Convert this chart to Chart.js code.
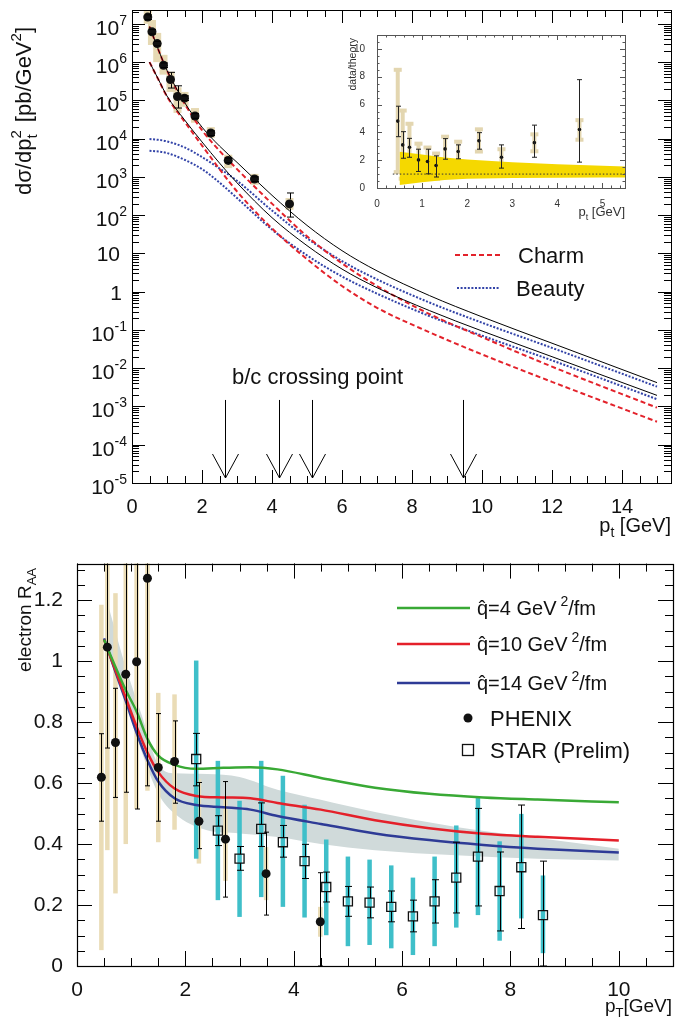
<!DOCTYPE html>
<html>
<head>
<meta charset="utf-8">
<script src="https://cdn.jsdelivr.net/npm/chart.js@4.4.1/dist/chart.umd.min.js"></script>
<style>
body { margin: 0; background: #fff; width: 688px; height: 1023px; position: relative; overflow: hidden; }
canvas { position: absolute; }
#top { left: 0; top: 0; }
#inset { left: 330px; top: 20px; }
#bottom { left: 0; top: 545px; }
</style>
</head>
<body>
<canvas id="top" width="688" height="545"></canvas>
<canvas id="inset" width="310" height="205"></canvas>
<canvas id="bottom" width="688" height="478"></canvas>
<script>
// ---- top panel: electron cross section ----
var ptData   = [0.45, 0.57, 0.72, 0.9, 1.1, 1.3, 1.5, 1.8, 2.25, 2.75, 3.5, 4.5];
var xsData   = [1.5e7, 6.2e6, 3.05e6, 8.3e5, 3.5e5, 1.26e5, 1.14e5, 3.9e4, 1.4e4, 2.7e3, 880, 197];
var xsStatLo = [1.3e7, 5.4e6, 2.65e6, 7.2e5, 2.1e5, 6.3e4, 9.9e4, 3.4e4, 1.2e4, 2.35e3, 760, 89];
var xsStatHi = [1.72e7, 7.1e6, 3.5e6, 9.5e5, 5.4e5, 2.4e5, 1.31e5, 4.5e4, 1.6e4, 3.1e3, 1.0e3, 380];
var xsSysLo  = [1.0e7, 2.8e6, 1.0e6, 4.7e5, 1.66e5, 4.7e4, 6.8e4, 2.6e4, 1.05e4, 1.7e3, 620, 138];
var xsSysHi  = [3.0e7, 1.26e7, 5.8e6, 1.55e6, 5.6e5, 2.2e5, 1.66e5, 6.3e4, 2.0e4, 3.8e3, 1.2e3, 280];

var ptTheory = [0.5, 0.75, 1, 1.5, 2, 2.5, 3, 4, 5, 6, 7, 8.5, 10, 12, 15];
var totalHi  = [8.5e6, 2.15e6, 6.1e5, 8.9e4, 2.0e4, 6.4e3, 2.4e3, 330, 54, 11.8, 3.5, 0.79, 0.22, 0.045, 0.0042];
var totalLo  = [1.0e6, 3.6e5, 1.3e5, 3.1e4, 8.2e3, 2.3e3, 700, 86, 16, 3.9, 1.27, 0.32, 0.094, 0.020, 0.00195];
var charmHi  = [8.5e6, 2.14e6, 6.0e5, 8.3e4, 1.66e4, 4.8e3, 1.6e3, 200, 28, 5.5, 1.41, 0.26, 0.065, 0.011, 0.00093];
var charmLo  = [1.0e6, 3.55e5, 1.26e5, 2.8e4, 6.6e3, 1.6e3, 417, 45, 7.1, 1.41, 0.38, 0.087, 0.023, 0.0044, 0.0004];
var beautyHi = [9800, 9300, 8500, 5900, 3300, 1660, 794, 132, 25, 6.3, 2.1, 0.52, 0.155, 0.034, 0.0033];
var beautyLo = [4800, 4600, 4200, 2800, 1600, 710, 280, 42, 8.9, 2.5, 0.89, 0.23, 0.071, 0.016, 0.00155];
var crossPts = [2.65, 4.2, 5.15, 9.45];
var topXTicks = [0, 2, 4, 6, 8, 10, 12, 14];
var topDecades = [-5, -4, -3, -2, -1, 0, 1, 2, 3, 4, 5, 6, 7];

// ---- inset: data/theory ----
var ratioPt     = [0.46, 0.57, 0.72, 0.92, 1.12, 1.31, 1.51, 1.8, 2.26, 2.76, 3.49, 4.49];
var ratio       = [4.81, 3.1, 2.93, 2.02, 1.9, 1.62, 2.81, 2.62, 3.4, 2.21, 3.26, 4.21];
var ratioStatLo = [3.69, 2.14, 2.21, 1.19, 1.02, 0.79, 2.07, 2.1, 2.79, 1.43, 2.21, 1.86];
var ratioStatHi = [5.88, 4.05, 3.57, 2.79, 2.79, 2.31, 3.55, 3.1, 3.98, 3.1, 4.52, 7.79];
var ratioSysLo  = [1.07, 0.6, 1.12, 0.79, 0.95, 0.6, 1.83, 1.79, 2.55, 1.62, 2.57, 3.4];
var ratioSysHi  = [8.57, 5.64, 4.69, 3.26, 2.98, 2.55, 3.76, 3.4, 4.29, 2.86, 3.93, 4.95];
var bandPt  = [0.5, 1, 1.5, 2, 3, 4, 5, 5.5];
var bandTop = [2.6, 2.4, 2.2, 2.05, 1.85, 1.7, 1.6, 1.55];
var bandBot = [0.22, 0.42, 0.58, 0.66, 0.72, 0.74, 0.75, 0.75];
var unityPt = [0.35, 5.5];
var unity   = [1, 1];
var insetXTicks = [0, 1, 2, 3, 4, 5];
var insetYTicks = [0, 2, 4, 6, 8, 10];

// ---- bottom panel: electron R_AA ----
var phenixPt     = [0.45, 0.56, 0.71, 0.9, 1.1, 1.3, 1.5, 1.8, 2.25, 2.74, 3.49, 4.49];
var phenixRaa    = [0.619, 1.046, 0.733, 0.957, 0.998, 1.272, 0.651, 0.671, 0.475, 0.416, 0.303, 0.145];
var phenixStatLo = [0.475, 0.715, 0.553, 0.57, 0.515, 0.591, 0.475, 0.534, 0.385, 0.226, 0.167, 0];
var phenixStatHi = [0.762, 1.5, 0.911, 1.5, 1.5, 1.5, 0.828, 0.804, 0.602, 0.605, 0.439, 0.306];
var phenixSysLo  = [0.052, 0.38, 0.238, 0.40, 0.515, 0.575, 0.406, 0.447, 0.336, 0.279, 0.216, 0.096];
var phenixSysHi  = [1.185, 1.5, 1.223, 1.5, 1.5, 1.5, 0.896, 0.891, 0.613, 0.545, 0.39, 0.194];

var starPt     = [2.2, 2.6, 3.0, 3.4, 3.8, 4.2, 4.6, 5.0, 5.4, 5.8, 6.2, 6.6, 7.0, 7.4, 7.8, 8.2, 8.6];
var starRaa    = [0.679, 0.444, 0.352, 0.45, 0.406, 0.344, 0.259, 0.212, 0.208, 0.194, 0.163, 0.212, 0.29, 0.359, 0.246, 0.324, 0.167];
var starStatLo = [0.591, 0.395, 0.314, 0.392, 0.357, 0.287, 0.21, 0.163, 0.158, 0.145, 0.112, 0.141, 0.174, 0.197, 0.115, 0.123, 0.0];
var starStatHi = [0.763, 0.493, 0.392, 0.535, 0.461, 0.399, 0.308, 0.261, 0.259, 0.246, 0.216, 0.283, 0.406, 0.517, 0.374, 0.528, 0.344];
var starSysLo  = [0.352, 0.216, 0.161, 0.226, 0.194, 0.159, 0.101, 0.065, 0.069, 0.058, 0.036, 0.065, 0.126, 0.167, 0.083, 0.156, 0.042];
var starSysHi  = [1.002, 0.673, 0.542, 0.673, 0.624, 0.529, 0.415, 0.359, 0.349, 0.33, 0.29, 0.359, 0.461, 0.551, 0.409, 0.499, 0.297];

var ptModel = [0.5, 0.7, 0.9, 1.1, 1.3, 1.5, 1.8, 2.2, 2.7, 3.2, 3.7, 4.5, 5.5, 6.5, 7.5, 8.5, 10];
var raaQ4   = [1.07, 0.985, 0.905, 0.835, 0.745, 0.69, 0.66, 0.647, 0.65, 0.652, 0.645, 0.617, 0.585, 0.565, 0.553, 0.546, 0.537];
var raaQ10  = [1.07, 0.975, 0.88, 0.785, 0.70, 0.636, 0.582, 0.558, 0.553, 0.55, 0.535, 0.513, 0.478, 0.452, 0.434, 0.424, 0.412];
var raaQ14  = [1.075, 0.97, 0.87, 0.765, 0.675, 0.605, 0.55, 0.528, 0.521, 0.513, 0.492, 0.466, 0.435, 0.413, 0.397, 0.385, 0.372];
var uncPt   = [0.55, 0.9, 1.2, 1.5, 1.8, 2.4, 3.0, 3.7, 4.5, 5.5, 7, 8.5, 10];
var uncHi   = [1.2, 0.98, 0.82, 0.66, 0.632, 0.63, 0.62, 0.578, 0.545, 0.505, 0.456, 0.42, 0.385];
var uncLo   = [1.03, 0.87, 0.70, 0.565, 0.50, 0.445, 0.435, 0.423, 0.40, 0.38, 0.363, 0.352, 0.346];
var botXTicks = [0, 2, 4, 6, 8, 10];
var botYTicks = [0, 0.2, 0.4, 0.6, 0.8, 1, 1.2];

var FONT = '"Liberation Sans", Arial, sans-serif';
Chart.defaults.font.family = FONT;
Chart.defaults.color = '#111';
Chart.defaults.animation = false;
Chart.defaults.plugins.legend.display = false;
Chart.defaults.plugins.tooltip.enabled = false;

function pts(xs, ys) {
    return xs.map(function(x, i) { return {x: x, y: ys[i]}; });
}

function range(a, b, step) {
    var out = [];
    for (var v = a; v <= b + 1e-9; v += step) out.push(+v.toFixed(4));
    return out;
}

function clipArea(ctx, a) {
    ctx.beginPath();
    ctx.rect(a.left, a.top, a.right - a.left, a.bottom - a.top);
    ctx.clip();
}

// parts: [text, size, dy, noAdvance]
function drawText(ctx, parts, x, y, align, angle) {
    ctx.save();
    ctx.translate(x, y);
    if (angle) ctx.rotate(angle);
    var total = 0, widths = [];
    parts.forEach(function(p) {
        ctx.font = p[1] + 'px ' + FONT;
        var w = ctx.measureText(p[0]).width;
        widths.push(w);
        if (!p[3]) total += w;
    });
    var cx = align === 'right' ? -total : (align === 'center' ? -total / 2 : 0);
    ctx.textAlign = 'left';
    ctx.textBaseline = 'alphabetic';
    parts.forEach(function(p, i) {
        ctx.font = p[1] + 'px ' + FONT;
        ctx.fillText(p[0], cx, p[2] || 0);
        if (!p[3]) cx += widths[i];
    });
    ctx.restore();
}

function ticksX(ctx, a, s, vals, len) {
    ctx.beginPath();
    vals.forEach(function(v) {
        var x = Math.round(s.getPixelForValue(v)) + 0.5;
        if (x < a.left || x > a.right) return;
        ctx.moveTo(x, a.bottom); ctx.lineTo(x, a.bottom - len);
        ctx.moveTo(x, a.top); ctx.lineTo(x, a.top + len);
    });
    ctx.stroke();
}

function ticksY(ctx, a, s, vals, len) {
    ctx.beginPath();
    vals.forEach(function(v) {
        var y = Math.round(s.getPixelForValue(v)) + 0.5;
        if (y < a.top || y > a.bottom) return;
        ctx.moveTo(a.left, y); ctx.lineTo(a.left + len, y);
        ctx.moveTo(a.right, y); ctx.lineTo(a.right - len, y);
    });
    ctx.stroke();
}

function frame(ctx, a) {
    ctx.strokeRect(Math.round(a.left) + 0.5, Math.round(a.top) + 0.5,
                   Math.round(a.right - a.left), Math.round(a.bottom - a.top));
}

function sysBoxes(ctx, xs, ys, xv, lo, hi, w, color) {
    ctx.fillStyle = color;
    xv.forEach(function(x, i) {
        var px = xs.getPixelForValue(x);
        var y1 = ys.getPixelForValue(hi[i]), y2 = ys.getPixelForValue(lo[i]);
        ctx.fillRect(px - w / 2, y1, w, y2 - y1);
    });
}

function errBars(ctx, xs, ys, xv, yv, lo, hi, cap, gap) {
    ctx.beginPath();
    xv.forEach(function(x, i) {
        var px = Math.round(xs.getPixelForValue(x)) + 0.5;
        var py = ys.getPixelForValue(yv[i]);
        var pl = ys.getPixelForValue(lo[i]), ph = ys.getPixelForValue(hi[i]);
        if (ph < py - gap) { ctx.moveTo(px, ph); ctx.lineTo(px, py - gap); }
        if (pl > py + gap) { ctx.moveTo(px, py + gap); ctx.lineTo(px, pl); }
        ctx.moveTo(px - cap, ph); ctx.lineTo(px + cap, ph);
        ctx.moveTo(px - cap, pl); ctx.lineTo(px + cap, pl);
    });
    ctx.stroke();
}

function curve(xs, ys, color, width, dash) {
    return {
        data: pts(xs, ys), showLine: true, borderColor: color, borderWidth: width,
        borderDash: dash || [], pointRadius: 0, cubicInterpolationMode: 'monotone', order: 5
    };
}

// ---------------- top chart ----------------
var topDecor = {
    id: 'topDecor',
    beforeDatasetsDraw: function(chart) {
        var ctx = chart.ctx, a = chart.chartArea;
        ctx.save();
        clipArea(ctx, a);
        sysBoxes(ctx, chart.scales.x, chart.scales.y, ptData, xsSysLo, xsSysHi, 8, '#e6d9b3');
        ctx.restore();
    },
    afterDatasetsDraw: function(chart) {
        var ctx = chart.ctx, a = chart.chartArea, xs = chart.scales.x, ys = chart.scales.y;
        ctx.save();
        ctx.strokeStyle = '#000';
        ctx.lineWidth = 1;
        errBars(ctx, xs, ys, ptData, xsData, xsStatLo, xsStatHi, 3.5, 4.5);
        frame(ctx, a);
        ticksX(ctx, a, xs, topXTicks, 13);
        ticksX(ctx, a, xs, range(0, 15, 0.5), 7);
        var major = [], minor = [];
        topDecades.forEach(function(n) {
            major.push(Math.pow(10, n));
            for (var k = 2; k < 10; k++) minor.push(k * Math.pow(10, n));
        });
        ticksY(ctx, a, ys, major, 13);
        ticksY(ctx, a, ys, minor, 7);

        // log tick labels
        ctx.fillStyle = '#111';
        topDecades.forEach(function(n) {
            var y = ys.getPixelForValue(Math.pow(10, n));
            if (n === 0) drawText(ctx, [['1', 21]], 122, y + 8, 'right');
            else if (n === 1) drawText(ctx, [['10', 21]], 120, y + 8, 'right');
            else drawText(ctx, [['10', 21, 11], [String(n), 14, 1]], 127, y, 'right');
        });

        // axis titles
        drawText(ctx, [['d\u03c3/dp', 22], ['2', 15, -10, true], ['t', 15, 6], ['  [pb/GeV', 22], ['2', 15, -10], [']', 22]],
                 31, 27, 'right', -Math.PI / 2);
        drawText(ctx, [['p', 20], ['t', 14, 5], [' [GeV]', 20]], 671, 532, 'right');

        // legend
        ctx.lineWidth = 2;
        ctx.strokeStyle = '#e3222b';
        ctx.setLineDash([5, 3]);
        ctx.beginPath(); ctx.moveTo(455, 255); ctx.lineTo(500, 255); ctx.stroke();
        ctx.strokeStyle = '#3344a8';
        ctx.setLineDash([2, 1.6]);
        ctx.beginPath(); ctx.moveTo(457, 288); ctx.lineTo(500, 288); ctx.stroke();
        ctx.setLineDash([]);
        drawText(ctx, [['Charm', 22]], 518, 263, 'left');
        drawText(ctx, [['Beauty', 22]], 516, 296, 'left');

        // b/c crossing arrows
        drawText(ctx, [['b/c crossing point', 22]], 232, 384, 'left');
        ctx.strokeStyle = '#000';
        ctx.lineWidth = 1;
        var yTop = ys.getPixelForValue(1.48e-3), yTip = ys.getPixelForValue(1.35e-5);
        ctx.beginPath();
        crossPts.forEach(function(x) {
            var px = Math.round(xs.getPixelForValue(x)) + 0.5;
            ctx.moveTo(px, yTop); ctx.lineTo(px, yTip);
            ctx.moveTo(px - 13, yTip - 24); ctx.lineTo(px, yTip); ctx.lineTo(px + 13, yTip - 24);
        });
        ctx.stroke();
        ctx.restore();
    }
};

new Chart(document.getElementById('top'), {
    type: 'scatter',
    data: {
        datasets: [
            curve(ptTheory, totalHi, '#000', 1),
            curve(ptTheory, totalLo, '#000', 1),
            curve(ptTheory, charmHi, '#e3222b', 2, [5, 3]),
            curve(ptTheory, charmLo, '#e3222b', 2, [5, 3]),
            curve(ptTheory, beautyHi, '#3344a8', 2, [2, 1.6]),
            curve(ptTheory, beautyLo, '#3344a8', 2, [2, 1.6]),
            {data: pts(ptData, xsData), pointRadius: 4.5, pointBackgroundColor: '#111', pointBorderWidth: 0, order: 1}
        ]
    },
    options: {
        responsive: false,
        devicePixelRatio: 1,
        layout: {padding: {left: 0, right: 17, top: 10, bottom: 0}},
        scales: {
            x: {
                type: 'linear', min: 0, max: 15.4,
                grid: {display: false}, border: {display: false},
                afterBuildTicks: function(s) { s.ticks = topXTicks.map(function(v) { return {value: v}; }); },
                afterFit: function(s) { s.height = 62; },
                ticks: {font: {size: 20}, padding: 4, maxRotation: 0, autoSkip: false,
                        callback: function(v) { return String(v); }}
            },
            y: {
                type: 'logarithmic', min: 1e-5, max: 2.3e7,
                grid: {display: false}, border: {display: false},
                ticks: {display: false},
                afterFit: function(s) { s.width = 132; }
            }
        }
    },
    plugins: [topDecor]
});

// ---------------- inset ----------------
var insetDecor = {
    id: 'insetDecor',
    beforeDatasetsDraw: function(chart) {
        var ctx = chart.ctx, a = chart.chartArea, xs = chart.scales.x, ys = chart.scales.y;
        ctx.save();
        clipArea(ctx, a);
        // sys bars with wide ends
        ctx.fillStyle = '#e3d6b0';
        ratioPt.forEach(function(x, i) {
            var px = xs.getPixelForValue(x);
            var y1 = ys.getPixelForValue(ratioSysHi[i]), y2 = ys.getPixelForValue(ratioSysLo[i]);
            ctx.fillRect(px - 2, y1, 4, y2 - y1);
            ctx.fillRect(px - 4, y1 - 1, 8, 4);
            ctx.fillRect(px - 4, y2 - 3, 8, 4);
        });
        ctx.restore();
    },
    afterDatasetsDraw: function(chart) {
        var ctx = chart.ctx, a = chart.chartArea, xs = chart.scales.x, ys = chart.scales.y;
        ctx.save();
        ctx.strokeStyle = '#222';
        ctx.lineWidth = 1;
        errBars(ctx, xs, ys, ratioPt, ratio, ratioStatLo, ratioStatHi, 2.5, 0);
        ctx.strokeStyle = '#555';
        frame(ctx, a);
        ticksX(ctx, a, xs, insetXTicks, 5);
        ticksX(ctx, a, xs, range(0, 5.4, 0.2), 2.5);
        ticksY(ctx, a, ys, insetYTicks, 5);
        ticksY(ctx, a, ys, range(0, 11, 0.5), 2.5);
        ctx.fillStyle = '#333';
        drawText(ctx, [['data/theory', 10.5]], 26, 18, 'right', -Math.PI / 2);
        drawText(ctx, [['p', 13], ['t', 9, 4], [' [GeV]', 13]], 295, 196, 'right');
        ctx.restore();
    }
};

new Chart(document.getElementById('inset'), {
    type: 'scatter',
    data: {
        datasets: [
            {data: pts(bandPt, bandTop), showLine: true, borderColor: 'rgba(0,0,0,0)', pointRadius: 0,
             fill: '+1', backgroundColor: '#f5d800', order: 10},
            {data: pts(bandPt, bandBot), showLine: true, borderColor: 'rgba(0,0,0,0)', pointRadius: 0, order: 11},
            {data: pts(unityPt, unity), showLine: true, borderColor: '#333', borderWidth: 1,
             borderDash: [1.5, 2], pointRadius: 0, order: 5},
            {data: pts(ratioPt, ratio), pointRadius: 1.8, pointBackgroundColor: '#111', pointBorderWidth: 0, order: 1}
        ]
    },
    options: {
        responsive: false,
        devicePixelRatio: 1,
        layout: {padding: {left: 0, right: 15, top: 15, bottom: 0}},
        scales: {
            x: {
                type: 'linear', min: 0, max: 5.5,
                grid: {display: false}, border: {display: false},
                afterBuildTicks: function(s) { s.ticks = insetXTicks.map(function(v) { return {value: v}; }); },
                afterFit: function(s) { s.height = 37; },
                ticks: {font: {size: 10}, color: '#333', padding: 2, maxRotation: 0, autoSkip: false,
                        callback: function(v) { return String(v); }}
            },
            y: {
                type: 'linear', min: 0, max: 11,
                grid: {display: false}, border: {display: false},
                afterBuildTicks: function(s) { s.ticks = insetYTicks.map(function(v) { return {value: v}; }); },
                afterFit: function(s) { s.width = 47; },
                ticks: {font: {size: 10}, color: '#333', padding: 4, autoSkip: false,
                        callback: function(v) { return String(v); }}
            }
        }
    },
    plugins: [insetDecor]
});

// ---------------- bottom chart ----------------
var bottomDecor = {
    id: 'bottomDecor',
    afterDatasetDraw: function(chart, args) {
        if (args.index !== 0) return;
        // systematic bars sit above the grey band, below the model curves
        var ctx = chart.ctx, a = chart.chartArea, xs = chart.scales.x, ys = chart.scales.y;
        ctx.save();
        clipArea(ctx, a);
        sysBoxes(ctx, xs, ys, phenixPt, phenixSysLo, phenixSysHi, 4.5, '#eadcb6');
        sysBoxes(ctx, xs, ys, starPt, starSysLo, starSysHi, 4.5, '#3fbfc9');
        ctx.restore();
    },
    afterDatasetsDraw: function(chart) {
        var ctx = chart.ctx, a = chart.chartArea, xs = chart.scales.x, ys = chart.scales.y;
        ctx.save();
        ctx.strokeStyle = '#000';
        ctx.lineWidth = 1;
        ctx.save();
        clipArea(ctx, a);
        errBars(ctx, xs, ys, phenixPt, phenixRaa, phenixStatLo, phenixStatHi, 2.5, 4);
        errBars(ctx, xs, ys, starPt, starRaa, starStatLo, starStatHi, 3.5, 4.5);
        ctx.restore();
        ctx.lineWidth = 1.2;
        frame(ctx, a);
        ctx.lineWidth = 1;
        ticksX(ctx, a, xs, botXTicks, 15);
        ticksX(ctx, a, xs, range(0, 11, 0.5), 8);
        ticksY(ctx, a, ys, botYTicks, 15);
        ticksY(ctx, a, ys, range(0, 1.3, 0.05), 8);

        // legend
        var rows = [['4', '#39a935', 63], ['10', '#e4202a', 99], ['14', '#2e3b96', 138]];
        ctx.lineWidth = 2.5;
        rows.forEach(function(r) {
            ctx.strokeStyle = r[1];
            ctx.beginPath(); ctx.moveTo(397, r[2]); ctx.lineTo(470, r[2]); ctx.stroke();
            ctx.fillStyle = '#111';
            drawText(ctx, [['q\u0302=' + r[0] + ' GeV', 20], [' 2', 14, -9], ['/fm', 20]], 477, r[2] + 7, 'left');
        });
        ctx.fillStyle = '#111';
        ctx.beginPath(); ctx.arc(468, 173, 4.5, 0, Math.PI * 2); ctx.fill();
        drawText(ctx, [['PHENIX', 22]], 490, 181, 'left');
        ctx.lineWidth = 1.3;
        ctx.strokeStyle = '#111';
        ctx.strokeRect(462.5, 199.5, 11, 11);
        drawText(ctx, [['STAR (Prelim)', 22]], 490, 213, 'left');

        // axis titles
        drawText(ctx, [['electron R', 19], ['AA', 13, 5]], 31, 23, 'right', -Math.PI / 2);
        drawText(ctx, [['p', 19], ['T', 13, 5], ['[GeV]', 19]], 672, 467, 'right');
        ctx.restore();
    }
};

new Chart(document.getElementById('bottom'), {
    type: 'scatter',
    data: {
        datasets: [
            {data: pts(uncPt, uncHi), showLine: true, borderColor: 'rgba(0,0,0,0)', pointRadius: 0,
             cubicInterpolationMode: 'monotone', fill: '+1', backgroundColor: '#d0dada', order: 10},
            {data: pts(uncPt, uncLo), showLine: true, borderColor: 'rgba(0,0,0,0)', pointRadius: 0,
             cubicInterpolationMode: 'monotone', order: 11},
            curve(ptModel, raaQ4, '#39a935', 2.5),
            curve(ptModel, raaQ10, '#e4202a', 2.5),
            curve(ptModel, raaQ14, '#2e3b96', 2.5),
            {data: pts(starPt, starRaa), pointStyle: 'rect', pointRadius: 6.4, pointBorderWidth: 1.3,
             pointBorderColor: '#111', pointBackgroundColor: 'rgba(0,0,0,0)', order: 2},
            {data: pts(phenixPt, phenixRaa), pointRadius: 4.5, pointBackgroundColor: '#111', pointBorderWidth: 0, order: 1}
        ]
    },
    options: {
        responsive: false,
        devicePixelRatio: 1,
        layout: {padding: {left: 0, right: 15, top: 18, bottom: 0}},
        scales: {
            x: {
                type: 'linear', min: 0, max: 11,
                grid: {display: false}, border: {display: false},
                afterBuildTicks: function(s) { s.ticks = botXTicks.map(function(v) { return {value: v}; }); },
                afterFit: function(s) { s.height = 57; },
                ticks: {font: {size: 21}, padding: 4, maxRotation: 0, autoSkip: false,
                        callback: function(v) { return String(v); }}
            },
            y: {
                type: 'linear', min: 0, max: 1.32,
                grid: {display: false}, border: {display: false},
                afterBuildTicks: function(s) { s.ticks = botYTicks.map(function(v) { return {value: v}; }); },
                afterFit: function(s) { s.width = 77; },
                ticks: {font: {size: 21}, padding: 6, autoSkip: false,
                        callback: function(v) { return String(+v.toFixed(2)); }}
            }
        }
    },
    plugins: [bottomDecor]
});
</script>
</body>
</html>
